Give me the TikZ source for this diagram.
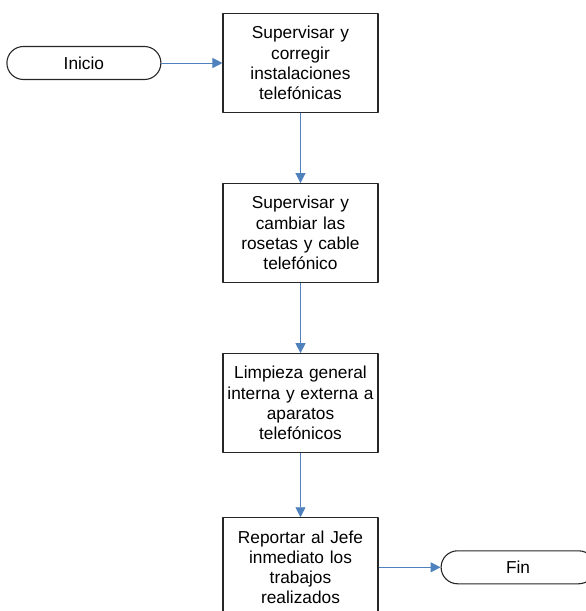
\documentclass[tikz,border=0pt]{standalone}
\usepackage{fontspec}
\setmainfont{Liberation Sans}
\usetikzlibrary{positioning,arrows.meta}

\definecolor{flecha}{RGB}{79,129,189}

\tikzset{
    paso/.style={draw=black!85, line width=1.1pt, rectangle, minimum width=155pt,
        minimum height=99pt, text width=150pt, inner sep=2pt, align=center,
        font=\fontsize{17.3}{20.3}\selectfont},
    terminal/.style={draw=black!85, line width=1.1pt, rectangle, rounded corners=16.5pt,
        minimum width=154pt, minimum height=33pt, inner sep=2pt,
        font=\fontsize{17.3}{20.3}\selectfont},
    flujo/.style={draw=flecha, line width=0.9pt, -{Triangle[length=10pt,width=10pt]}}
}

\begin{document}
\begin{tikzpicture}[x=1pt, y=1pt, line join=round]

    \useasboundingbox (0,0) rectangle (586,-611);
    \clip (0,0) rectangle (586,-611);

    % Process steps
    \node[paso] (sup) at (300.5,-63) {Supervisar y\\ corregir\\ instalaciones\\ telefónicas};
    \node[paso, below=70pt of sup] (ros) {Supervisar y\\ cambiar las\\ rosetas y cable\\ telefónico};
    \node[paso, below=70pt of ros] (lim) {Limpieza general\\ interna y externa a\\ aparatos\\ telefónicos};
    \node[paso, below=64pt of lim] (rep) {Reportar al Jefe\\ inmediato los\\ trabajos\\ realizados};

    % Start and end
    \node[terminal, left=61pt of sup] (ini) {Inicio};
    \node[terminal, right=62pt of rep] (fin) {Fin};

    % Connectors
    \draw[flujo] (ini) -- (sup);
    \foreach \a/\b in {sup/ros, ros/lim, lim/rep} {
        \draw[flujo] (\a) -- (\b);
    }
    \draw[flujo] (rep) -- (fin);

\end{tikzpicture}
\end{document}
